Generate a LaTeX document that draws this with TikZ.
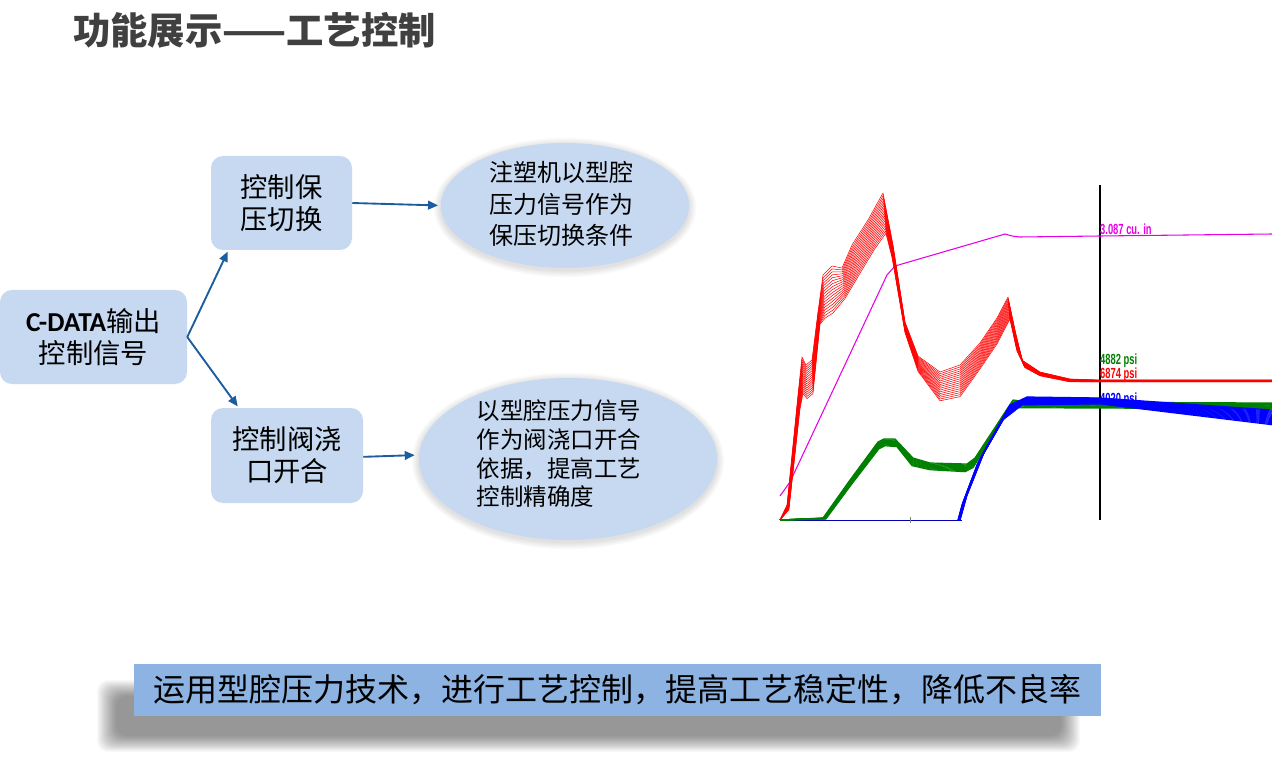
\documentclass[tikz,border=0pt]{standalone}
\usepackage{fontspec}
\setmainfont{Liberation Sans}
\newfontfamily\cjk{Noto Sans CJK SC}
\newfontfamily\carlito{Carlito}
\usetikzlibrary{arrows.meta,shapes.geometric}
\definecolor{boxblue}{RGB}{198,217,241}
\definecolor{bannerblue}{RGB}{141,179,226}
\definecolor{arrblue}{RGB}{28,93,160}
\definecolor{titlegray}{RGB}{64,64,64}
\definecolor{cmag}{RGB}{230,0,230}
\definecolor{cred}{RGB}{255,0,0}
\definecolor{cgreen}{RGB}{0,128,0}
\definecolor{cblue}{RGB}{0,0,255}
\newcommand\IP[4]{({#1+\t*(#3-#1)},{#2+\t*(#4-#2)})}
\tikzset{
  rbox/.style={draw=none, fill=boxblue, rounded corners=9pt, inner sep=0pt, align=center,
    font=\cjk\fontsize{20.5}{24}\selectfont},
  ell/.style={ellipse, fill=boxblue, inner sep=0pt},
  etext/.style={inner sep=0pt, font=\cjk\fontsize{18}{23.6}\selectfont},
  arr/.style={draw=arrblue, line width=1.4pt, -{Triangle[length=7.5pt,width=6.5pt]}},
  lbl/.style={font=\bfseries\fontsize{11}{12}\selectfont, inner sep=0pt, anchor=west, xscale=0.64},
  mesh/.style={line width=0.4pt, line join=round}
}
\begin{document}
\begin{tikzpicture}[x=0.75pt,y=-0.75pt]
\useasboundingbox (0,0) rectangle (1272,763);
\fill[white] (0,0) rectangle (1272,763);

% title
\node[anchor=west, inner sep=0pt, text=titlegray, font=\cjk\bfseries\fontsize{28}{30}\selectfont] (title) at (73,30) {功能展示——工艺控制};

% boxes
\node[rbox, minimum width=140.25pt, minimum height=70.5pt] (c) at (93.5,337)
  {{\carlito\bfseries C-DATA}输出\\控制信号};
\node[rbox, minimum width=105.75pt, minimum height=70.5pt] (b1) at (281.5,203) {控制保\\压切换};
\node[rbox, minimum width=114pt, minimum height=71.25pt] (b2) at (287,455.5) {控制阀浇\\口开合};

% ellipse soft shadows
\foreach \i in {1,...,6}{
  \fill[black, opacity=0.018] (565,207.5) ellipse [x radius={(124+(7-\i)*1.2)*0.75pt}, y radius={(62.5+(7-\i)*1.2)*0.75pt}];
  \fill[black, opacity=0.018] (568,461) ellipse [x radius={(149+(7-\i)*1.2)*0.75pt}, y radius={(81+(7-\i)*1.2)*0.75pt}];
}
\node[ell, minimum width=186pt, minimum height=93.75pt] (e1) at (565,205.5) {};
\node[ell, minimum width=223.5pt, minimum height=121.5pt] (e2) at (568,459) {};
\node[etext, align=center] (t1) at (561,204) {注塑机以型腔\\压力信号作为\\保压切换条件};
\node[etext, align=left, font=\cjk\fontsize{17.6}{21.5}\selectfont] (t2) at (559,454)
  {以型腔压力信号\\作为阀浇口开合\\依据，提高工艺\\控制精确度};

% arrows
\draw[arr] (c.east) -- ([xshift=12.75pt,yshift=-1pt]b1.south west);
\draw[arr] (c.east) -- ([xshift=20.25pt,yshift=1pt]b2.north west);
\draw[arr, shorten >=2pt] (b1.east) -- (e1.west);
\draw[arr, shorten >=3pt] ([yshift=-1pt]b2.east) -- ([yshift=3pt]e2.west);

% banner shadow (blurred)
\foreach \i in {0,...,19}{
  \fill[black, opacity=0.024, rounded corners=8pt] ({97+\i*1.0},{680+\i*0.85}) rectangle ({1080-\i*1.0},{752-\i*0.85});
}
\node[fill=bannerblue, minimum width=725.25pt, minimum height=39pt, inner sep=0pt,
  font=\cjk\fontsize{24}{28}\selectfont] (banner) at (617.5,690) {运用型腔压力技术，进行工艺控制，提高工艺稳定性，降低不良率};

% ---------------- chart ----------------
\draw[black, line width=0.8pt] (1100,185) -- (1100,520);
\draw[blue!70!black, line width=0.6pt] (780,520) -- (962,520);
\draw[gray, line width=0.5pt] (910,517) -- (910,523);

% labels
\node[lbl, text=cmag] (l1) at (1100,229) {3.087 cu. in};
\node[lbl, text=cgreen] (l2) at (1100,361) {4882 psi};
\node[lbl, text=cred] (l3) at (1100,375) {6874 psi};
\node[lbl, text=cblue] (l4) at (1100,400) {4020 psi};

% magenta
\draw[cmag, line width=0.8pt, line join=round] (780,496) -- (790,482) -- (887,275) -- (895,266)
  -- (1005,234) -- (1012,236) -- (1020,237) -- (1100,236) -- (1272,234);

% red mesh
\foreach \t in {0,0.06,...,1.0}{
\draw[cred, mesh] \IP{780}{520}{780}{520} -- \IP{787}{505}{789}{510} -- \IP{798}{395}{800}{410}
 -- \IP{802}{357}{803}{395} -- \IP{806}{365}{807}{400} -- \IP{812}{360}{813}{395}
 -- \IP{818}{312}{820}{325} -- \IP{823}{275}{825}{320} -- \IP{832}{266}{833}{315}
 -- \IP{842}{268}{845}{300} -- \IP{852}{245}{860}{275} -- \IP{868}{220}{875}{250}
 -- \IP{883}{193}{886}{235} -- \IP{893}{245}{892}{258} -- \IP{905}{322}{905}{333}
 -- \IP{918}{356}{918}{372} -- \IP{940}{372}{940}{402} -- \IP{960}{365}{960}{398}
 -- \IP{980}{343}{980}{370} -- \IP{997}{318}{997}{345} -- \IP{1008}{297}{1010}{320}
 -- \IP{1015}{330}{1017}{352} -- \IP{1022}{360}{1025}{368} -- \IP{1040}{372}{1040}{376}
 -- \IP{1070}{379}{1070}{382} -- \IP{1100}{380}{1100}{382} -- \IP{1272}{380}{1272}{382};
}

% green band
\foreach \t in {0,0.12,...,1.0}{
\draw[cgreen, line width=0.9pt, line join=round] \IP{780}{520}{780}{520} -- \IP{823}{518}{826}{519}
 -- \IP{850}{480}{852}{484} -- \IP{878}{442}{879}{449} -- \IP{884}{439}{885}{446} -- \IP{895}{439}{897}{447}
 -- \IP{913}{458}{912}{466} -- \IP{930}{463}{930}{470} -- \IP{967}{464}{965}{472}
 -- \IP{975}{458}{973}{468} -- \IP{1013}{400}{1010}{408} -- \IP{1030}{402}{1030}{408}
 -- \IP{1272}{403}{1272}{409};
}

% blue band
\foreach \t in {0,0.07,...,1.0}{
\draw[cblue, line width=0.9pt, line join=round] \IP{960}{520}{958}{520} -- \IP{967}{495}{962}{505}
 -- \IP{985}{450}{977}{465} -- \IP{1010}{405}{1003}{420} -- \IP{1027}{397}{1022}{405}
 -- \IP{1100}{398}{1100}{404} -- \IP{1272}{410}{1272}{425};
}
\end{tikzpicture}
\end{document}
